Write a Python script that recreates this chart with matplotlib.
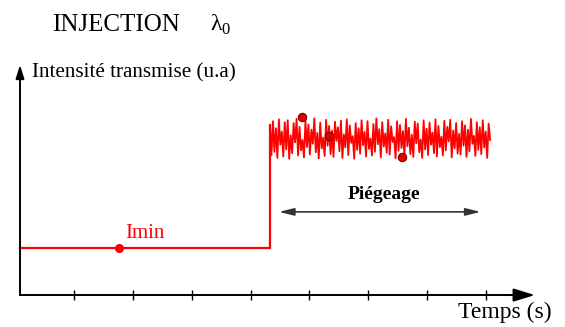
import matplotlib
matplotlib.use('Agg')
import matplotlib.pyplot as plt
import numpy as np

plt.rcParams['font.family'] = ['Liberation Serif', 'DejaVu Serif']
plt.rcParams['mathtext.fontset'] = 'custom'
plt.rcParams['mathtext.rm'] = 'Liberation Serif'

# niveau bas avant injection
t_debut = 0.083
t_saut = 4.33
t_fin = 8.07
i_min = 1.0

# signal bruite pendant le piegeage (u.a)
bruit = [
    3.62, 2.98, 3.70, 3.05, 3.55, 2.92, 3.74, 3.20, 3.48, 2.95,
    3.68, 3.10, 3.72, 2.90, 3.40, 3.02, 3.66, 3.25, 3.75, 2.97,
    3.58, 3.08, 3.30, 2.93, 3.71, 3.15, 3.63, 2.99, 3.52, 3.22,
    3.76, 3.04, 3.45, 2.91, 3.67, 3.12, 3.35, 2.96, 3.73, 3.18,
    3.60, 3.00, 3.50, 2.94, 3.69, 3.28, 3.57, 3.06, 3.71, 2.92,
    3.42, 3.14, 3.74, 2.98, 3.61, 3.24, 3.38, 2.90, 3.66, 3.09,
    3.55, 3.01, 3.72, 3.19, 3.47, 2.95, 3.70, 3.11, 3.33, 2.97,
    3.64, 3.05, 3.76, 3.21, 3.53, 2.93, 3.68, 3.16, 3.44, 3.03,
    3.73, 2.99, 3.59, 3.26, 3.36, 2.91, 3.70, 3.07, 3.62, 3.13,
    3.49, 2.96, 3.75, 3.17, 3.56, 3.00, 3.41, 2.94, 3.69, 3.23,
    3.65, 3.04, 3.31, 2.92, 3.72, 3.10, 3.54, 2.98, 3.67, 3.20,
    3.46, 3.02, 3.74, 2.95, 3.60, 3.15, 3.37, 2.97, 3.71, 3.08,
    3.58, 3.27, 3.73, 2.93, 3.50, 3.12, 3.66, 3.01, 3.43, 2.99,
    3.70, 3.18, 3.61, 2.94, 3.52, 3.06, 3.75, 3.22, 3.39, 2.96,
    3.68, 3.09, 3.57, 3.00, 3.72, 3.14, 3.48, 2.92, 3.65, 3.30,
]

# points marques
pts_t = [1.765, 4.87, 5.33, 6.58]
pts_i = [1.0, 3.79, 3.38, 2.94]

ticks = [1, 2, 3, 4, 5, 6, 7, 8]

t_bruit = np.linspace(t_saut, t_fin, len(bruit))
t = np.concatenate([[t_debut, t_saut], t_bruit])
i = np.concatenate([[i_min, i_min], bruit])

fig = plt.figure(figsize=(5.65, 3.27), dpi=100)
ax = fig.add_axes([0, 0, 1, 1])
ax.set_xlim(-0.257, 9.342)
ax.set_ylim(-0.68, 6.28)

ax.plot(t[:3], i[:3], color='red', lw=1.6)
ax.plot(t[2:], i[2:], color='red', lw=1.3)
ax.plot(pts_t[:1], pts_i[:1], 'o', color='red', ms=5.5, mec='red')
ax.plot(pts_t[1:], pts_i[1:], 'o', color='#e00000', ms=6, mec='#800000', mew=0.8)

# axes avec fleches
for s in ['top', 'right', 'left']:
    ax.spines[s].set_visible(False)
ax.spines['bottom'].set_position(('data', 0))
ax.spines['bottom'].set_bounds(t_debut, 8.5)
ax.spines['bottom'].set_linewidth(1.4)
ax.set_xticks(ticks)
ax.set_xticklabels([])
ax.tick_params(axis='x', direction='inout', length=7, width=1)
ax.set_yticks([])
ax.annotate('', xy=(8.83, 0), xytext=(8.3, 0),
            arrowprops=dict(arrowstyle='-|>,head_length=1.3,head_width=0.4',
                            color='black', lw=1.4, shrinkA=0, shrinkB=0))
ax.annotate('', xy=(t_debut, 4.9), xytext=(t_debut, 0),
            arrowprops=dict(arrowstyle='-|>,head_length=0.8,head_width=0.25',
                            color='black', lw=1.4, shrinkA=0, shrinkB=0))

# fleche piegeage
ax.annotate('', xy=(4.48, 1.77), xytext=(7.91, 1.77),
            arrowprops=dict(arrowstyle='<|-|>,head_length=0.9,head_width=0.22',
                            color='#333333', lw=1.2, shrinkA=0, shrinkB=0))

ax.text(0.62, 5.74, 'INJECTION', fontsize=18, va='center', ha='left')
ax.text(3.31, 5.74, r'λ$_\mathrm{0}$', fontsize=17, va='center', ha='left')
ax.text(0.286, 4.72, 'Intensité transmise (u.a)', fontsize=15.2, va='center', ha='left')
ax.text(9.12, -0.38, 'Temps (s)', fontsize=17, va='center', ha='right')
ax.text(2.21, 1.30, 'Imin', fontsize=15, color='red', va='center', ha='center')
ax.text(6.27, 2.15, 'Piégeage', fontsize=14, fontweight='bold', va='center', ha='center')

fig.savefig('out.png', dpi=100)
